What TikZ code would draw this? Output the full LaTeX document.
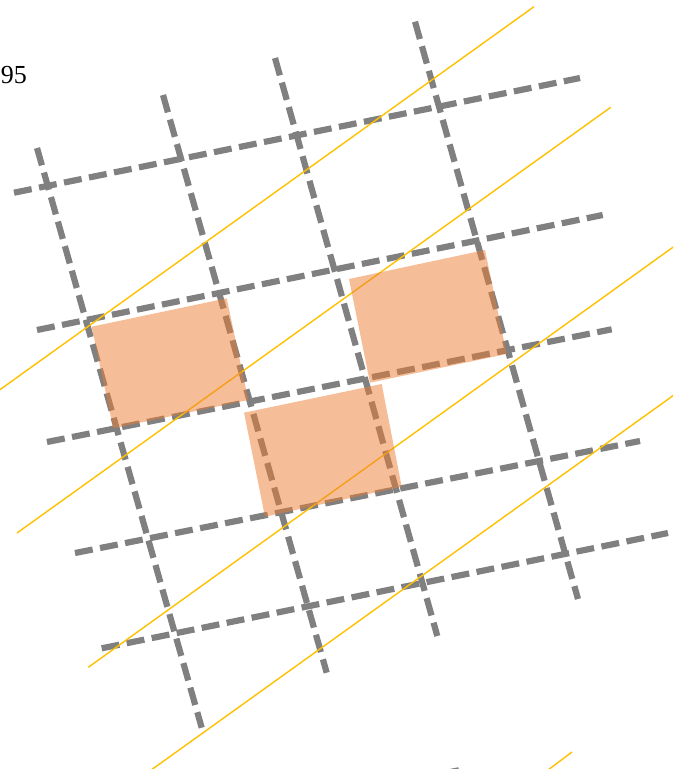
\documentclass[tikz,border=0pt]{standalone}
\usepackage{fontspec}
\setmainfont{Liberation Serif}
\definecolor{gridgray}{HTML}{808080}
\definecolor{goldline}{HTML}{FFC000}
\definecolor{cellorange}{HTML}{ED7D31}
\tikzset{
  gridline/.style={draw=gridgray,line width=6.2pt,dash pattern=on 18pt off 7.5pt},
  diag/.style={draw=goldline,line width=1.4pt},
  cell/.style={fill=cellorange,fill opacity=0.5,draw=none}
}
\begin{document}
\begin{tikzpicture}[x=1pt,y=-1pt]
\useasboundingbox (0,0) rectangle (673,769);
\clip (0,0) rectangle (673,769);
% steep grid lines
\draw[gridline] (37,148) -- (201.7,727.7);
\draw[gridline] (163,95) -- (326.7,672.7);
\draw[gridline] (275,58) -- (437.3,636);
\draw[gridline] (415,21.7) -- (578,599);
% shallow grid lines
\draw[gridline] (14,192.7) -- (580,78);
\draw[gridline] (37,330) -- (602.7,215);
\draw[gridline] (47,442) -- (611.7,329.3);
\draw[gridline] (75,553) -- (640,441);
\draw[gridline] (101.7,648.3) -- (668,533);
\draw[gridline] (449,772.3) -- (459,770.3);
% diagonal thin lines
\draw[diag] (-10,396.8) -- (534,6.7);
\draw[diag] (17,533) -- (610.7,107.3);
\draw[diag] (88.3,667.3) -- (690,235);
\draw[diag] (140,778) -- (690,383.5);
\draw[diag] (540,776) -- (572,752);
% orange cells
\path[cell] (91.7,326.7) -- (226.7,298.3) -- (248.3,400) -- (113.3,428.3) -- cycle;
\path[cell] (349,279) -- (485,250) -- (506.7,354) -- (370,382.7) -- cycle;
\path[cell] (244,412.7) -- (381.7,384) -- (401.7,486.7) -- (265,516.7) -- cycle;
% label
\node[anchor=base east,inner sep=0pt,font=\fontsize{26}{30}\selectfont] (lbl) at (27,83) {95};
\end{tikzpicture}
\end{document}
